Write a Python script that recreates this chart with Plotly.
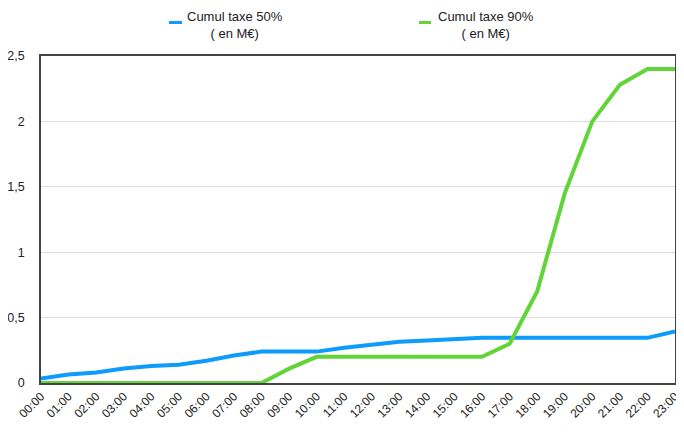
import plotly.graph_objects as go

hours = [f"{h:02d}:00" for h in range(24)]
cumul_50 = [0.035, 0.065, 0.08, 0.11, 0.13, 0.14, 0.17, 0.21, 0.24, 0.24, 0.24, 0.27,
            0.295, 0.315, 0.325, 0.335, 0.345, 0.345, 0.345, 0.345, 0.345, 0.345, 0.345, 0.395]
cumul_90 = [0, 0, 0, 0, 0, 0, 0, 0, 0, 0.11, 0.2, 0.2,
            0.2, 0.2, 0.2, 0.2, 0.2, 0.3, 0.7, 1.45, 2.0, 2.28, 2.4, 2.4]
series_names = ["Cumul taxe 50%<br>( en M€)", "Cumul taxe 90%<br>( en M€)"]
colors = ["#0d9bfc", "#61d437"]
y_ticks = [0, 0.5, 1, 1.5, 2, 2.5]

fig = go.Figure()
for vals, col in zip([cumul_50, cumul_90], colors):
    fig.add_trace(go.Scatter(x=hours, y=vals, mode="lines",
                             line=dict(color=col, width=4), showlegend=False))

# page body has an 8px margin: figure coordinates = screen coordinates - 8
OFF = 8
left, top, plot_w, plot_h = 41 - OFF, 56 - OFF, 634, 327
font = "Liberation Sans, Arial, Helvetica, sans-serif"
fig.update_layout(
    width=684 - OFF, height=438 - OFF,
    margin=dict(l=left, r=684 - OFF - left - plot_w, t=top, b=438 - OFF - top - plot_h),
    plot_bgcolor="white", paper_bgcolor="white",
    separators=", ",
    font=dict(family=font, size=13, color="#222"),
    xaxis=dict(tickangle=-45, showgrid=False, showline=True, linecolor="#444",
               linewidth=1.5, mirror=True, ticks="", tickfont=dict(size=12),
               range=[0, 23], automargin=False),
    yaxis=dict(range=[0, 2.5], tickvals=y_ticks, showgrid=True, gridcolor="#dcdcdc",
               gridwidth=1, showline=True, linecolor="#444", linewidth=1.5, mirror=True,
               ticks="", zeroline=False, tickfont=dict(size=12.5), ticklabelstandoff=12,
               automargin=False),
)

# Custom legend (short dash + centered two-line text), screen pixel targets
text_centers = [235, 486]
dash_x = [(169, 182), (419, 431)]
for name, tc in zip(series_names, text_centers):
    fig.add_annotation(x=(tc - OFF - left) / plot_w, y=1 + (top - (25.5 - OFF)) / plot_h,
                       xref="paper", yref="paper", text=name, showarrow=False,
                       xanchor="center", yanchor="middle",
                       font=dict(size=13, color="#222"), align="center")

shapes = []
for col, (x0, x1) in zip(colors, dash_x):
    yy = 1 + (top - (22.5 - OFF)) / plot_h
    shapes.append(dict(type="line", xref="paper", yref="paper",
                       x0=(x0 - OFF - left) / plot_w, x1=(x1 - OFF - left) / plot_w,
                       y0=yy, y1=yy, line=dict(color=col, width=3)))
fig.update_layout(shapes=shapes)

fig.write_html("out.html")
